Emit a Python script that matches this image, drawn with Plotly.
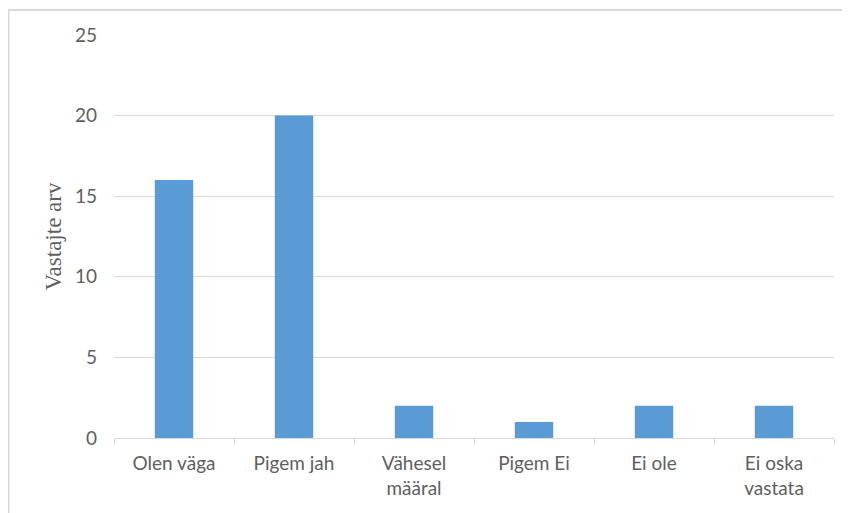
import plotly.graph_objects as go

# -----------------------------------
# Data
# -----------------------------------

categories = [
    "Olen väga",
    "Pigem jah",
    "Vähesel<br>määral",
    "Pigem Ei",
    "Ei ole",
    "Ei oska<br>vastata",
]
counts = [16, 20, 2, 1, 2, 2]
y_ticks = [0, 5, 10, 15, 20, 25]

bar_color = "#5B9BD5"
grid_color = "#D9D9D9"
text_color = "#5f5f5f"

# page body has an 8px margin, so the figure sits at (8, 8)
OFF = 8
PLOT_L, PLOT_R, PLOT_T, PLOT_B = 114, 834, 35, 438

fig = go.Figure(
    go.Bar(
        x=categories,
        y=counts,
        marker=dict(color=bar_color, line=dict(width=0)),
    )
)

fig.update_layout(
    width=850,
    height=513,
    paper_bgcolor="white",
    plot_bgcolor="white",
    showlegend=False,
    bargap=0.68,
    margin=dict(
        l=PLOT_L - OFF,
        r=850 - (PLOT_R - OFF),
        t=PLOT_T - OFF,
        b=513 - (PLOT_B - OFF),
    ),
    font=dict(family="Lato", size=19, color=text_color),
)

fig.update_yaxes(
    range=[0, 25],
    tickvals=y_ticks,
    showgrid=True,
    gridcolor=grid_color,
    gridwidth=1,
    zeroline=False,
    showline=False,
    ticks="",
    ticklabelstandoff=16,
    title=dict(
        text="Vastajte arv",
        font=dict(family="Liberation Serif", size=23, color=text_color),
        standoff=6,
    ),
)

fig.update_xaxes(
    showgrid=False,
    showline=True,
    linecolor=grid_color,
    linewidth=1,
    ticks="outside",
    tickson="boundaries",
    ticklen=6,
    tickcolor=grid_color,
    ticklabelstandoff=8,
)

# chart border (page coords -> paper coords)
w = PLOT_R - PLOT_L
h = PLOT_B - PLOT_T
fig.add_shape(
    type="rect",
    xref="paper", yref="paper",
    x0=(8.5 - PLOT_L) / w, x1=(870 - PLOT_L) / w,
    y0=(PLOT_B - 540) / h, y1=(PLOT_B - 10) / h,
    line=dict(color=grid_color, width=2),
    fillcolor="rgba(0,0,0,0)",
    layer="below",
)

fig.write_html("out.html")
